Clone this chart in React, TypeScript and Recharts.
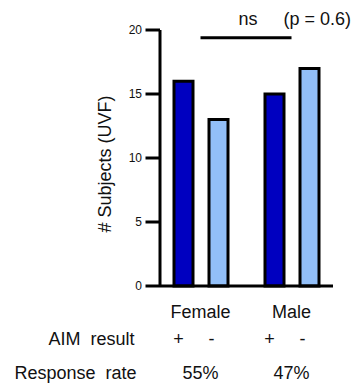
import { Bar, BarChart, ReferenceLine, XAxis, YAxis } from "recharts";

const groups = ["Female", "Male"];
const positive = [16, 15];
const negative = [13, 17];
const responseRates = ["55%", "47%"];
const yTicks = [0, 5, 10, 15, 20];
const bracketLevel = 19.4;

const data = groups.map((group, i) => ({
  group,
  positive: positive[i],
  negative: negative[i],
}));

const FONT = "'Liberation Sans', Arial, sans-serif";
const INK = "#000";

const GroupTick = ({ x, y, payload, index }: any) => {
  return (
    <g fontFamily={FONT} fontSize={18} fill="#111">
      <text x={x} y={y + 32} textAnchor="middle">
        {payload.value}
      </text>
      <text x={x - 22} y={y + 59} textAnchor="middle">
        +
      </text>
      <text x={x + 11} y={y + 59} textAnchor="middle">
        -
      </text>
      <text x={x} y={y + 93} textAnchor="middle">
        {responseRates[index]}
      </text>
      {index === 0 && (
        <g>
          <text x={x - 66} y={y + 59} textAnchor="end">
            {"AIM\u00A0\u00A0result"}
          </text>
          <text x={x - 64} y={y + 93} textAnchor="end">
            {"Response\u00A0\u00A0rate"}
          </text>
        </g>
      )}
    </g>
  );
};

// tick mark + label, the 0 tick also gives the x-axis its short stub to the left
const CountTick = ({ x, y, payload }: any) => (
  <g>
    <line x1={x - 14.5} x2={x} y1={y} y2={y} stroke={INK} strokeWidth={3} />
    <text
      x={x - 18}
      y={y}
      textAnchor="end"
      dominantBaseline="central"
      fontFamily={FONT}
      fontSize={12}
      fill="#111"
    >
      {payload.value}
    </text>
  </g>
);

const BracketLabel = ({ viewBox }: any) => {
  const { x, y, width } = viewBox;
  return (
    <g fontFamily={FONT} fontSize={18} fill="#111">
      <text x={x + width / 2 + 2} y={y - 13} textAnchor="middle">
        ns
      </text>
      <text x={x + 83} y={y - 13}>
        {"(p\u00A0=\u00A00.6)"}
      </text>
    </g>
  );
};

const YLabel = ({ viewBox }: any) => {
  const cx = 97;
  const cy = viewBox.y + viewBox.height / 2 + 6;
  return (
    <text
      x={cx}
      y={cy}
      transform={`rotate(-90, ${cx}, ${cy})`}
      textAnchor="middle"
      dominantBaseline="central"
      fontFamily={FONT}
      fontSize={18}
      fill="#111"
    >
      # Subjects (UVF)
    </text>
  );
};

export default function App() {
  return (
    <BarChart
      width={356}
      height={379}
      data={data}
      margin={{ top: 22, right: 31, left: 0, bottom: 11 }}
      barSize={19}
      barGap={16}
    >
      <XAxis
        dataKey="group"
        height={90}
        padding={{ left: -5, right: -4 }}
        axisLine={{ stroke: INK, strokeWidth: 3 }}
        tickLine={false}
        tickSize={0}
        tickMargin={0}
        tick={<GroupTick />}
        interval={0}
      />
      <YAxis
        width={152}
        domain={[0, 20]}
        ticks={yTicks}
        interval={0}
        tickSize={0}
        tickMargin={0}
        axisLine={{ stroke: INK, strokeWidth: 3 }}
        tickLine={false}
        tick={<CountTick />}
        label={<YLabel />}
      />
      <Bar dataKey="positive" fill="#0000C0" stroke={INK} strokeWidth={3} isAnimationActive={false} />
      <Bar dataKey="negative" fill="#92BFF8" stroke={INK} strokeWidth={3} isAnimationActive={false} />
      <ReferenceLine
        segment={[
          { x: groups[0], y: bracketLevel },
          { x: groups[1], y: bracketLevel },
        ]}
        stroke={INK}
        strokeWidth={3}
        label={<BracketLabel />}
      />
    </BarChart>
  );
}
